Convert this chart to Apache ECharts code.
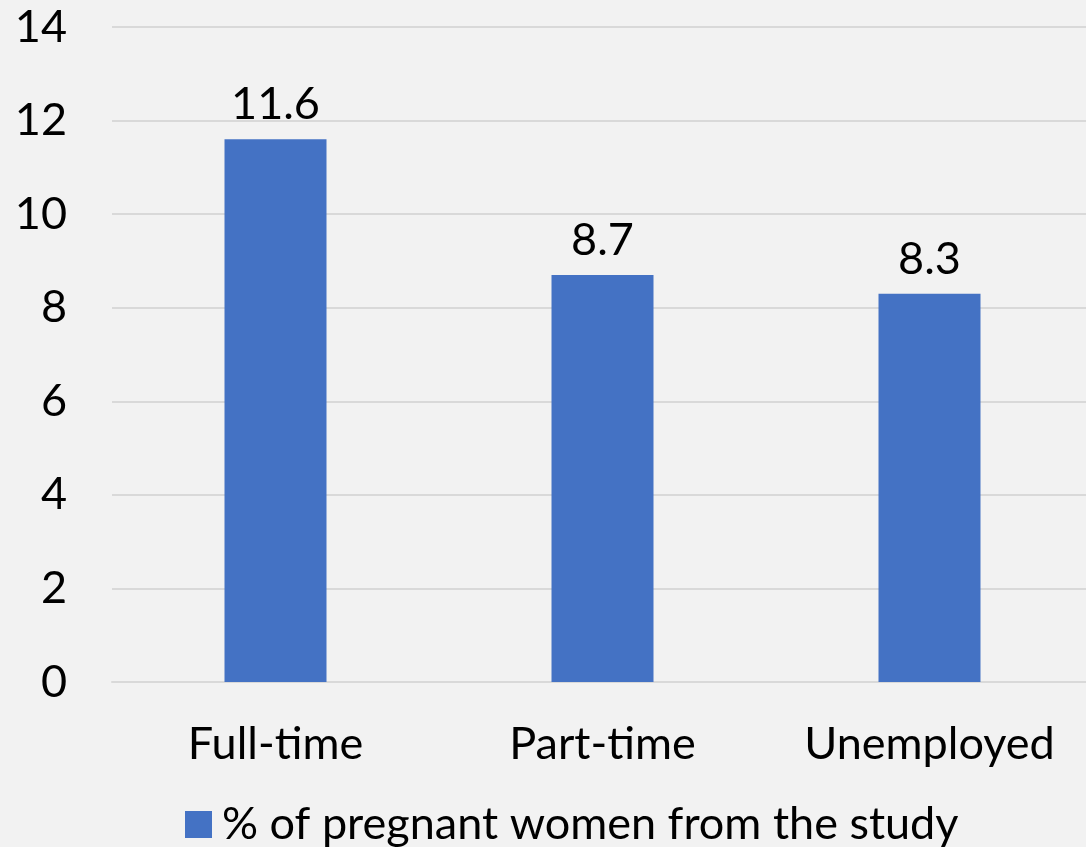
<!DOCTYPE html>
<html>
<head>
<meta charset="utf-8">
<script src="https://cdn.jsdelivr.net/npm/echarts@6/dist/echarts.min.js"></script>
<style>
  html, body { margin: 0; padding: 0; background: #f2f2f2; }
  #chart { width: 1086px; height: 847px; }
</style>
</head>
<body>
<div id="chart"></div>
<script>
// Employment status categories and their shares
const categories = ['Full-time', 'Part-time', 'Unemployed'];
const seriesName = '% of pregnant women from the study';
const values = [11.6, 8.7, 8.3];
const yTicks = { min: 0, max: 14, interval: 2 };

const FONT = 'Lato, "Liberation Sans", Arial, sans-serif';
const FS = 45;
const chart = echarts.init(document.getElementById('chart'), null, { renderer: 'canvas' });

chart.setOption({
  backgroundColor: '#f2f2f2',
  animation: false,
  textStyle: { fontFamily: FONT, color: '#000' },
  grid: {
    left: 112, width: 981, top: 27, bottom: 165,
    containLabel: false, outerBoundsMode: 'none'
  },
  legend: {
    data: [seriesName],
    left: 180,
    top: 797,
    icon: 'rect',
    itemWidth: 27,
    itemHeight: 27,
    itemGap: 10,
    textStyle: { fontSize: FS, fontFamily: FONT, color: '#000', padding: [0, 0, 0, 5] }
  },
  xAxis: {
    type: 'category',
    data: categories,
    axisLine: { show: true, lineStyle: { color: '#d9d9d9', width: 2 } },
    axisTick: { show: false },
    axisLabel: { interval: 0, hideOverlap: false, fontSize: FS, fontFamily: FONT, color: '#000', margin: 40 }
  },
  yAxis: {
    type: 'value',
    min: yTicks.min,
    max: yTicks.max,
    interval: yTicks.interval,
    axisLine: { show: false },
    axisTick: { show: false },
    splitLine: { lineStyle: { color: '#d9d9d9', width: 2 } },
    axisLabel: { fontSize: FS, fontFamily: FONT, color: '#000', margin: 45 }
  },
  series: [{
    name: seriesName,
    type: 'bar',
    data: values,
    barWidth: 102,
    itemStyle: { color: '#4472c4' },
    label: {
      show: true,
      position: 'top',
      distance: 12,
      fontSize: FS,
      fontFamily: FONT,
      color: '#000'
    }
  }]
});
</script>
</body>
</html>
